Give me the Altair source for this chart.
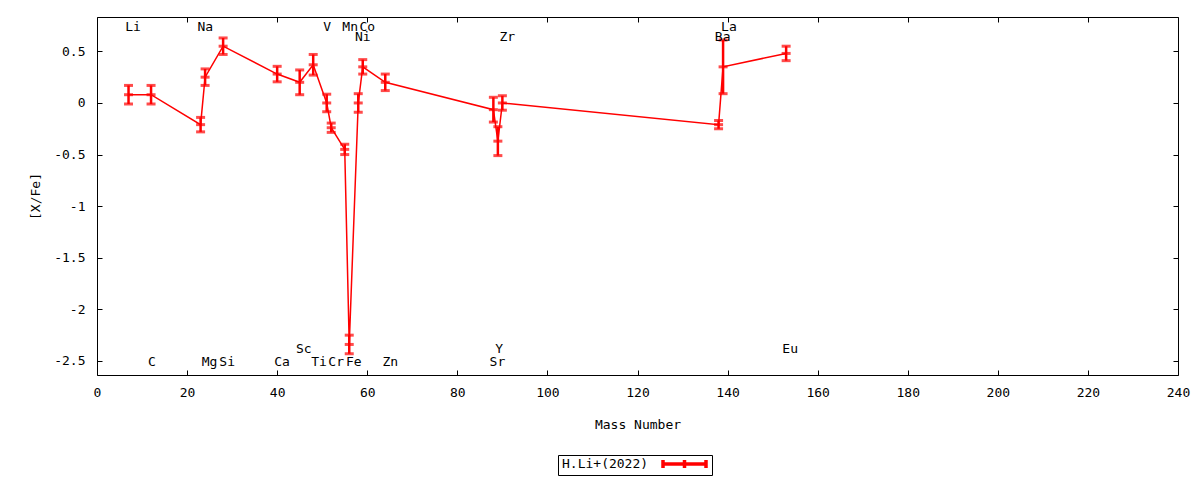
import altair as alt
import pandas as pd

# abundances
elements = ["Li", "C", "Na", "Mg", "Si", "Ca", "Sc", "Ti", "V", "Cr", "Mn",
            "Fe", "Ni", "Co", "Zn", "Sr", "Y", "Zr", "Ba", "La", "Eu"]
mass = [7, 12, 23, 24, 28, 40, 45, 48, 51, 52, 55,
        56, 58, 59, 64, 88, 89, 90, 138, 139, 153]
xfe = [0.08, 0.08, -0.21, 0.25, 0.55, 0.28, 0.20, 0.37, 0.00, -0.24, -0.45,
       -2.34, 0.00, 0.35, 0.20, -0.065, -0.37, 0.00, -0.21, 0.35, 0.48]
err = [0.09, 0.09, 0.07, 0.08, 0.08, 0.075, 0.12, 0.10, 0.085, 0.045, 0.05,
       0.09, 0.09, 0.07, 0.08, 0.12, 0.14, 0.07, 0.04, 0.26, 0.07]

# element name labels
label_x = [8.0, 12.2, 24.05, 25.0, 28.9, 41.1, 45.9, 49.3, 51.1, 53.1, 56.2,
           57.0, 59.0, 60.0, 65.1, 88.9, 89.3, 91.1, 138.9, 140.3, 153.9]
label_row = ["top", "bottom", "top", "bottom", "bottom", "bottom", "bottom2",
             "bottom", "top", "bottom", "top", "bottom", "top2", "top",
             "bottom", "bottom", "bottom2", "top2", "top2", "top", "bottom2"]

series = "H.Li+(2022)"
xticks = list(range(0, 241, 20))
yticks = [-2.5, -2, -1.5, -1, -0.5, 0, 0.5]

df = pd.DataFrame({"element": elements, "mass": mass, "xfe": xfe, "err": err})
df["lo"] = df.xfe - df.err
df["hi"] = df.xfe + df.err
df["series"] = series

row_y = {"top": 0.734, "top2": 0.637, "bottom2": -2.383, "bottom": -2.514}
labels = pd.DataFrame({"element": elements, "lx": label_x, "row": label_row})
labels["ly"] = labels.row.map(row_y)

W, H = 1081, 358
FONT = "DejaVu Sans Mono"
RED = "#ff0000"
xscale = alt.Scale(domain=[0, 240], nice=False, zero=False)
yscale = alt.Scale(domain=[-2.636, 0.833], nice=False, zero=False)


def tick_axis(orient, offset, values):
    return alt.Axis(orient=orient, offset=offset, values=values, labels=False,
                    domain=False, grid=False, ticks=True, tickSize=5,
                    tickColor="black", title=None)


main_x = alt.Axis(orient="bottom", values=xticks, ticks=False, domain=False,
                  grid=False, labelPadding=11, labelFlush=False, labelFont=FONT,
                  labelFontSize=13, labelColor="black", title="Mass Number",
                  titleFont=FONT, titleFontSize=13, titleFontWeight="normal",
                  titleColor="black", titleY=49, titleBaseline="middle")
main_y = alt.Axis(orient="left", values=yticks, labelExpr="'' + datum.value",
                  ticks=False, domain=False, grid=False, labelPadding=12,
                  labelFlush=False, labelFont=FONT, labelFontSize=13,
                  labelColor="black", title="[X/Fe]", titleFont=FONT,
                  titleFontSize=13, titleFontWeight="normal", titleColor="black",
                  titleX=-62, titleY=179, titleBaseline="middle",
                  titleAlign="center")

legend = alt.Legend(orient="none", legendX=461, legendY=438, title=series,
                    titleOrient="left", titleFont=FONT, titleFontSize=13,
                    titleFontWeight="normal", titleColor="black",
                    titlePadding=12, labelExpr="''", labelOffset=0,
                    symbolType="M-1,0L1,0M-1,-0.19L-1,0.19M0,-0.19L0,0.19M1,-0.19L1,0.19",
                    symbolSize=1849, symbolStrokeWidth=3.5, clipHeight=10,
                    strokeColor="black", fillColor="white", padding=4)

base = alt.Chart(df)

line = base.mark_line(strokeWidth=1.5).encode(
    x=alt.X("mass:Q", scale=xscale, axis=main_x),
    y=alt.Y("xfe:Q", scale=yscale, axis=main_y),
    color=alt.Color("series:N", scale=alt.Scale(range=[RED]), legend=legend),
)

bars = base.mark_rule(color=RED, strokeWidth=2.5).encode(
    x=alt.X("mass:Q", scale=xscale, axis=tick_axis("top", -H, xticks)),
    y=alt.Y("lo:Q", scale=yscale, axis=tick_axis("right", -W, yticks)),
    y2="hi:Q",
)

centers = base.mark_tick(color=RED, orient="horizontal", size=9, thickness=3).encode(
    x=alt.X("mass:Q", scale=xscale, axis=tick_axis("bottom", -H, xticks)),
    y=alt.Y("xfe:Q", scale=yscale, axis=tick_axis("left", -W, yticks)),
)

caps_lo = base.mark_tick(color=RED, orient="horizontal", size=9, thickness=3).encode(
    x=alt.X("mass:Q", scale=xscale, axis=None),
    y=alt.Y("lo:Q", scale=yscale, axis=None),
)

caps_hi = base.mark_tick(color=RED, orient="horizontal", size=9, thickness=3).encode(
    x=alt.X("mass:Q", scale=xscale, axis=None),
    y=alt.Y("hi:Q", scale=yscale, axis=None),
)

names = alt.Chart(labels).mark_text(font=FONT, fontSize=13, color="black",
                                    align="center", baseline="middle").encode(
    x=alt.X("lx:Q", scale=xscale, axis=None),
    y=alt.Y("ly:Q", scale=yscale, axis=None),
    text="element:N",
)

chart = alt.layer(line, bars, caps_lo, caps_hi, centers, names).resolve_axis(
    x="independent", y="independent"
).properties(
    width=W, height=H,
    autosize=alt.AutoSizeParams(type="none"),
    padding={"left": 89, "top": 9, "right": 14, "bottom": 102},
).configure_view(stroke="black", strokeWidth=1)

chart.save("out.html", embed_options={"renderer": "svg", "actions": False})
